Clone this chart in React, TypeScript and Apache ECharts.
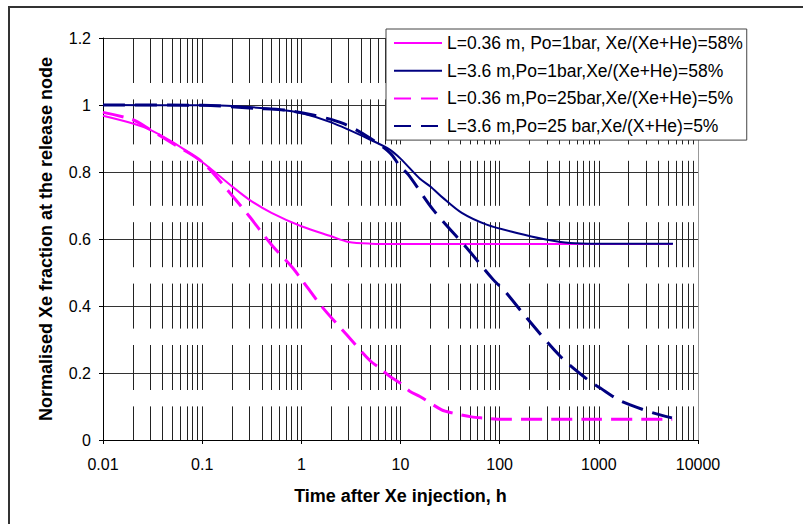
import React, { useEffect, useRef } from 'react';
import * as echarts from 'echarts';

const xTickLabels = ['0.01', '0.1', '1', '10', '100', '1000', '10000'];
const xDecades = [0.01, 0.1, 1, 10, 100, 1000];
const xGridSteps = [1, 2, 3, 4, 5, 6, 7, 8, 9];

const seriesNames = [
  'L=0.36 m, Po=1bar, Xe/(Xe+He)=58%',
  'L=3.6 m,Po=1bar,Xe/(Xe+He)=58%',
  'L=0.36 m,Po=25bar,Xe/(Xe+He)=5%',
  'L=3.6 m,Po=25 bar,Xe/(X+He)=5%',
];

const magentaSolidT = [0.01, 0.02, 0.03, 0.05, 0.1, 0.2, 0.3, 0.5, 1, 2, 3, 5, 10, 100, 1000, 5500];
const magentaSolidV = [0.968, 0.945, 0.926, 0.89, 0.83, 0.757, 0.717, 0.678, 0.638, 0.608, 0.591, 0.586, 0.585, 0.585, 0.585, 0.585];

const navySolidT = [0.01, 0.1, 0.2, 0.6, 1, 2, 5, 7.8, 10, 15.7, 20, 27, 41.5, 74, 149, 276, 514, 1000, 5600];
const navySolidV = [1.0, 0.999, 0.997, 0.986, 0.976, 0.948, 0.896, 0.867, 0.84, 0.78, 0.757, 0.722, 0.678, 0.643, 0.618, 0.6, 0.588, 0.586, 0.586];

const magentaDashT = [0.01, 0.02, 0.03, 0.05, 0.1, 0.2, 0.3, 0.5, 0.8, 1, 1.6, 2.87, 5, 6.2, 7.8, 9.9, 12.5, 15.7, 26, 33, 52, 66, 109, 1000, 5500];
const magentaDashV = [0.978, 0.956, 0.926, 0.886, 0.83, 0.73, 0.667, 0.583, 0.517, 0.48, 0.399, 0.314, 0.235, 0.215, 0.19, 0.17, 0.145, 0.13, 0.09, 0.081, 0.069, 0.066, 0.062, 0.062, 0.062];

const navyDashT = [0.01, 0.1, 0.35, 0.67, 1.31, 2.63, 5, 7.83, 9.9, 12, 21.4, 46.6, 86.5, 113, 188, 408, 787, 1033, 1578, 2073, 3433, 5460];
const navyDashV = [1.0, 0.999, 0.99, 0.985, 0.97, 0.945, 0.9, 0.857, 0.817, 0.792, 0.687, 0.573, 0.478, 0.444, 0.364, 0.25, 0.178, 0.155, 0.12, 0.105, 0.082, 0.066];

const yMin = 0;
const yMax = 1.2;

const zip = (t: number[], v: number[]) => t.map((x, i) => [x, v[i]]);

const gridXValues: number[] = [];
xDecades.forEach((d) =>
  xGridSteps.forEach((s) => {
    const v = +(d * s).toPrecision(6);
    if (v > 0.01) gridXValues.push(v);
  })
);

export default function App() {
  const ref = useRef<HTMLDivElement>(null);
  useEffect(() => {
    if (!ref.current) return;
    const chart = echarts.init(ref.current, undefined, { renderer: 'svg' });
    const font = 'Arial, "Liberation Sans", sans-serif';
    const option: any = {
      animation: false,
      backgroundColor: '#fff',
      textStyle: { fontFamily: font },
      grid: { left: 103, right: 105, top: 38, bottom: 84, containLabel: false },
      graphic: [
        {
          type: 'rect',
          silent: true,
          shape: { x: 9, y: 7, width: 900, height: 600 },
          style: { fill: 'none', stroke: '#333', lineWidth: 2 },
        },
      ],
      legend: {
        orient: 'vertical',
        left: 386,
        top: 29,
        z: 10,
        padding: [5, 4, 5, 7],
        itemWidth: 48,
        itemHeight: 14,
        itemGap: 9.7,
        backgroundColor: '#fff',
        borderColor: '#444',
        borderWidth: 1,
        selectedMode: false,
        itemStyle: { opacity: 0 },
        textStyle: { fontSize: 17.5, color: '#000', lineHeight: 17, fontFamily: font },
        data: [
          { name: seriesNames[0] },
          { name: seriesNames[1] },
          { name: seriesNames[2], lineStyle: { type: [17, 10] } },
          { name: seriesNames[3], lineStyle: { type: [17, 10] } },
        ],
      },
      xAxis: {
        type: 'log',
        logBase: 10,
        min: 0.01,
        max: 10000,
        name: 'Time after Xe injection, h',
        nameLocation: 'middle',
        nameGap: 47,
        nameTextStyle: { fontSize: 18, fontWeight: 'bold', color: '#000' },
        axisLine: { show: true, onZero: false, lineStyle: { color: '#000', width: 1 } },
        axisTick: { show: true, length: 4, lineStyle: { color: '#000' } },
        axisLabel: {
          fontSize: 16,
          color: '#000',
          margin: 16,
          formatter: (v: number) => xTickLabels[Math.round(Math.log10(v)) + 2] ?? '',
        },
        splitLine: { show: false },
        minorTick: { show: false },
        minorSplitLine: { show: false },
      },
      yAxis: [
        {
          type: 'value',
          min: yMin,
          max: yMax,
          interval: 0.2,
          name: 'Normalised Xe fraction at the release node',
          nameLocation: 'middle',
          nameGap: 48,
          nameTextStyle: { fontSize: 18, fontWeight: 'bold', color: '#000' },
          axisLine: { show: true, lineStyle: { color: '#000', width: 1 } },
          axisTick: { show: true, length: 4, lineStyle: { color: '#000' } },
          axisLabel: { fontSize: 16, color: '#000', margin: 12 },
          splitLine: { show: true, lineStyle: { color: '#333', width: 1 } },
        },
        {
          type: 'value',
          position: 'right',
          min: yMin,
          max: yMax,
          axisLine: { show: true, lineStyle: { color: '#999', width: 1 } },
          axisTick: { show: false },
          axisLabel: { show: false },
          splitLine: { show: false },
        },
      ],
      series: [
        {
          name: '__grid',
          type: 'line',
          data: [],
          silent: true,
          z: 1,
          markLine: {
            silent: true,
            z: 1,
            symbol: ['none', 'none'],
            label: { show: false },
            emphasis: { disabled: true },
            lineStyle: { color: '#222', width: 1, type: [45, 16.4], dashOffset: 0 },
            data: gridXValues.map((v) => [{ coord: [v, yMax] }, { coord: [v, yMin] }]),
          },
        },
        {
          name: seriesNames[0],
          type: 'line',
          z: 3,
          data: zip(magentaSolidT, magentaSolidV),
          symbol: 'none',
          smooth: 0.3,
          lineStyle: { color: '#FF00FF', width: 2 },
          itemStyle: { color: '#FF00FF' },
        },
        {
          name: seriesNames[1],
          type: 'line',
          z: 3,
          data: zip(navySolidT, navySolidV),
          symbol: 'none',
          smooth: 0.3,
          lineStyle: { color: '#000080', width: 2 },
          itemStyle: { color: '#000080' },
        },
        {
          name: seriesNames[2],
          type: 'line',
          z: 3,
          data: zip(magentaDashT, magentaDashV),
          symbol: 'none',
          smooth: 0.3,
          lineStyle: { color: '#FF00FF', width: 3, type: [21, 9] },
          itemStyle: { color: '#FF00FF' },
        },
        {
          name: seriesNames[3],
          type: 'line',
          z: 3,
          data: zip(navyDashT, navyDashV),
          symbol: 'none',
          smooth: 0.3,
          lineStyle: { color: '#000080', width: 3, type: [22, 10] },
          itemStyle: { color: '#000080' },
        },
      ],
    };
    chart.setOption(option);
    return () => chart.dispose();
  }, []);
  return (
    <div
      ref={ref}
      style={{ position: 'fixed', left: 0, top: 0, width: 803, height: 524, background: '#fff' }}
    />
  );
}
